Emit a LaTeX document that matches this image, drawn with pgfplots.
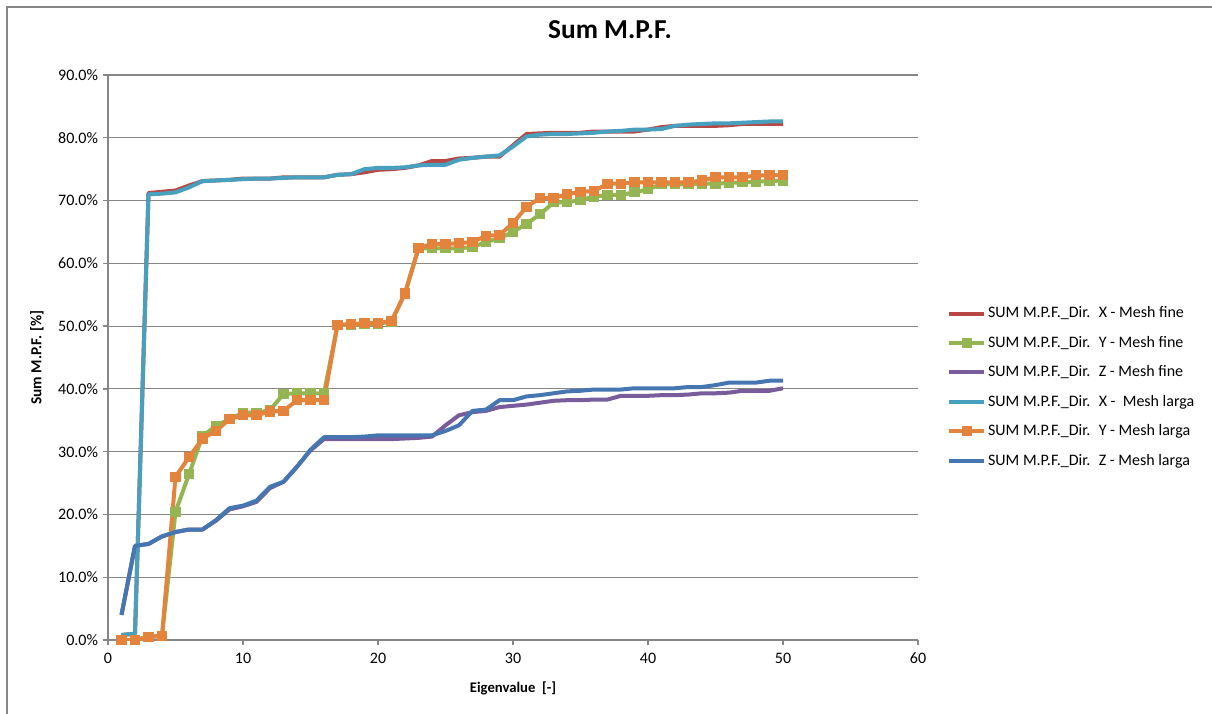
\documentclass[border=0pt]{standalone}
\usepackage{pgfplots}
\pgfplotsset{compat=1.18}
\usepackage{pgfplotstable}
\usepackage{fontspec}
\setmainfont{Carlito}
\definecolor{cX}{RGB}{185,72,68}
\definecolor{cY}{RGB}{148,181,82}
\definecolor{cZ}{RGB}{120,92,155}
\definecolor{cXl}{RGB}{70,160,190}
\definecolor{cYl}{RGB}{228,131,60}
\definecolor{cZl}{RGB}{70,118,178}
\definecolor{axgray}{RGB}{134,134,134}
\pgfplotstableread{
i xf yf zf xl yl zl
1 0.8 0 4.0 0.8 0 4.0
2 1.0 0 15.0 1.0 0 15.0
3 71.2 0.5 15.3 71.0 0.5 15.3
4 71.4 0.7 16.5 71.1 0.6 16.5
5 71.6 20.4 17.2 71.3 26.0 17.2
6 72.4 26.4 17.6 72.1 29.1 17.6
7 73.1 32.5 17.6 73.1 32.1 17.6
8 73.2 34.1 19.0 73.2 33.3 19.1
9 73.3 35.2 20.8 73.3 35.2 21.0
10 73.5 36.2 21.3 73.4 35.8 21.4
11 73.5 36.2 22.0 73.5 35.8 22.2
12 73.5 36.6 24.2 73.5 36.4 24.4
13 73.7 39.2 25.2 73.6 36.5 25.2
14 73.7 39.3 27.6 73.7 38.2 27.6
15 73.7 39.3 30.2 73.7 38.2 30.3
16 73.7 39.3 32.0 73.7 38.2 32.3
17 74.1 50.2 32.0 74.1 50.2 32.3
18 74.2 50.2 32.0 74.2 50.3 32.3
19 74.5 50.3 32.0 75.0 50.5 32.4
20 74.9 50.4 32.0 75.2 50.5 32.6
21 75.0 50.7 32.0 75.2 50.8 32.6
22 75.2 55.3 32.1 75.3 55.2 32.6
23 75.6 62.4 32.2 75.6 62.4 32.6
24 76.3 62.4 32.4 75.7 63.1 32.6
25 76.3 62.4 34.2 75.7 63.1 33.3
26 76.7 62.4 35.8 76.5 63.2 34.2
27 76.8 62.6 36.3 76.8 63.4 36.5
28 77.0 63.4 36.5 77.0 64.4 36.7
29 77.0 64.0 37.1 77.2 64.5 38.2
30 78.8 65.0 37.3 78.6 66.4 38.2
31 80.6 66.3 37.5 80.2 69.0 38.8
32 80.7 67.8 37.8 80.5 70.4 39.0
33 80.8 69.7 38.1 80.6 70.4 39.3
34 80.8 69.7 38.2 80.6 71.0 39.6
35 80.8 70.1 38.2 80.7 71.4 39.7
36 81.0 70.6 38.3 80.8 71.5 39.9
37 81.0 70.9 38.3 81.0 72.7 39.9
38 81.0 70.9 38.9 81.1 72.7 39.9
39 81.0 71.3 38.9 81.3 72.9 40.1
40 81.3 71.8 38.9 81.3 72.9 40.1
41 81.7 72.6 39.0 81.4 72.9 40.1
42 81.9 72.6 39.0 81.9 72.9 40.1
43 81.9 72.6 39.1 82.1 72.9 40.3
44 81.9 72.7 39.3 82.2 73.2 40.3
45 81.9 72.7 39.3 82.3 73.7 40.6
46 82.0 72.8 39.4 82.3 73.7 41.0
47 82.2 72.9 39.7 82.4 73.7 41.0
48 82.2 73.0 39.7 82.5 74.0 41.0
49 82.2 73.1 39.7 82.6 74.0 41.3
50 82.2 73.2 40.1 82.6 74.1 41.3
}\datatable
\begin{document}
\begin{tikzpicture}
\path[use as bounding box] (0,0) rectangle (909pt,534.75pt);
\draw[axgray, line width=1.1pt] (5.25pt,-2pt) -- (5.25pt,529.5pt) -- (912pt,529.5pt);
\begin{axis}[
  at={(81pt,54.75pt)}, anchor=south west,
  scale only axis, width=607.5pt, height=423.75pt,
  xmin=0, xmax=60, ymin=0, ymax=90,
  xtick={0,10,...,60}, ytick={0,10,...,90},
  axis x line*=bottom, axis y line*=left,
  axis line style={axgray, line width=1.1pt},
  ymajorgrids, grid style={axgray, line width=0.9pt},
  tick align=outside, major tick length=4pt,
  tick style={axgray, line width=1pt},
  /pgf/number format/assume math mode=true,
  ticklabel style={font=\fontsize{12}{14}\selectfont, text=black},
  yticklabel={\pgfmathprintnumber[fixed,fixed zerofill,precision=1]{\tick}\%},
  xticklabel style={yshift=-2pt},
  title={\textbf{Sum M.P.F.}},
  title style={font=\fontsize{20.5}{23}\selectfont, at={(rel axis cs:0.6198,1.0655)}, anchor=center},
  xlabel={\textbf{Eigenvalue~ [-]}},
  xlabel style={font=\fontsize{11}{13}\selectfont, at={(rel axis cs:0.5,-0.085)}, anchor=center},
  ylabel={\textbf{Sum M.P.F. [\%]}},
  ylabel style={font=\fontsize{11.5}{13}\selectfont, at={(rel axis cs:-0.0877,0.5)}, anchor=center},
  every axis plot/.append style={line width=3pt, line join=round},
  legend image code/.code={\draw[mark repeat=2,mark phase=2,#1] plot coordinates {(0pt,0pt) (13pt,0pt) (26pt,0pt)};},
  legend cell align=left,
  legend style={draw=none, fill=none, inner sep=0pt, at={(rel axis cs:1.036,0.4474)}, anchor=west,
    font=\fontsize{12}{14}\selectfont, row sep=8.6pt,
    nodes={inner sep=1pt, text height=9pt, text depth=2.5pt},
    /tikz/every odd column/.append style={column sep=0.5pt}},
]
\addplot[cX, no markers] table[x=i, y=xf] {\datatable};
\addlegendentry{SUM M.P.F.\_Dir.~ X - Mesh fine}
\addplot[cY, mark=square*, mark size=3.4pt, mark options={solid, line width=0pt}] table[x=i, y=yf] {\datatable};
\addlegendentry{SUM M.P.F.\_Dir.~ Y - Mesh fine}
\addplot[cZ, no markers] table[x=i, y=zf] {\datatable};
\addlegendentry{SUM M.P.F.\_Dir.~ Z - Mesh fine}
\addplot[cXl, no markers] table[x=i, y=xl] {\datatable};
\addlegendentry{SUM M.P.F.\_Dir.~ X -~ Mesh larga}
\addplot[cYl, mark=square*, mark size=3.4pt, mark options={solid, line width=0pt}] table[x=i, y=yl] {\datatable};
\addlegendentry{SUM M.P.F.\_Dir.~ Y - Mesh larga}
\addplot[cZl, no markers] table[x=i, y=zl] {\datatable};
\addlegendentry{SUM M.P.F.\_Dir.~ Z - Mesh larga}
\end{axis}
\end{tikzpicture}
\end{document}
